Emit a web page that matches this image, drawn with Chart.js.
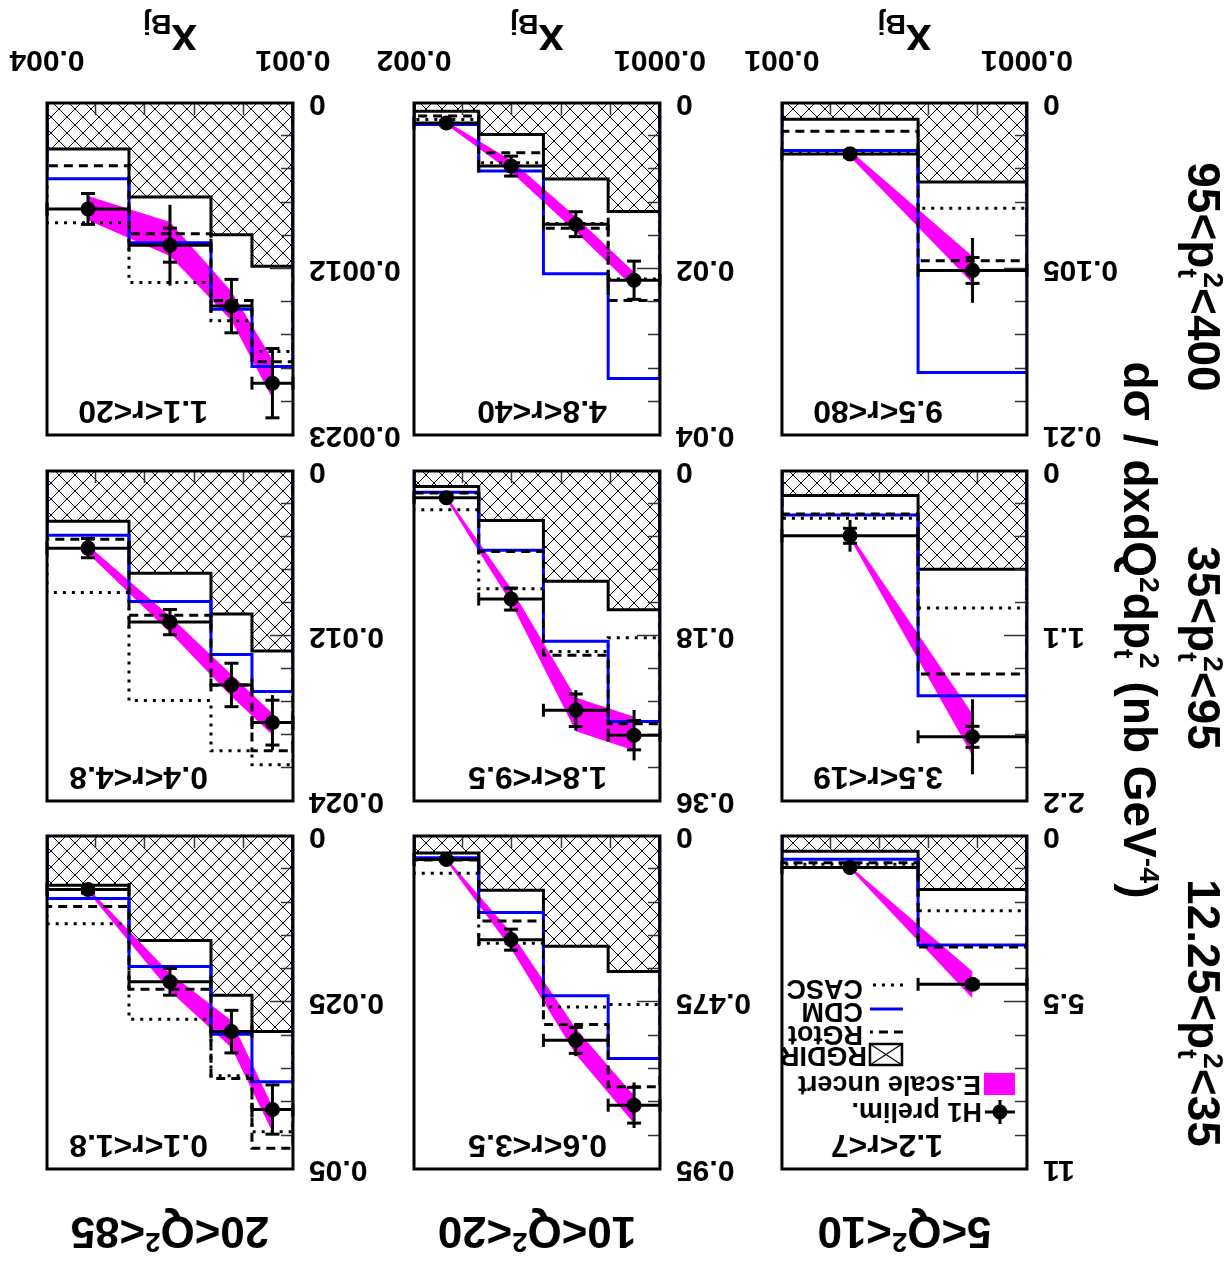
<!DOCTYPE html>
<html>
<head>
<meta charset="utf-8">
<script src="https://cdn.jsdelivr.net/npm/chart.js@4.4.0/dist/chart.umd.min.js"></script>
<style>
html, body { margin: 0; padding: 0; background: #fff; }
#page { position: absolute; left: 0; top: 0; width: 1228px; height: 1268px; transform: rotate(180deg);
  font-family: 'Liberation Sans', Arial, sans-serif; font-weight: bold; color: #000; overflow: hidden; }
#page canvas { position: absolute; }
.lbl { position: absolute; white-space: nowrap; text-align: center; line-height: 1; }
.lbl sup, .lbl sub { font-size: 62%; line-height: 0; }
</style>
</head>
<body>
<div id="page"></div>
<script>
// panel grid: rows = pt^2 ranges (top to bottom), columns = Q^2 ranges (left to right)
var colTitles = ['5&lt;Q<sup>2</sup>&lt;10', '10&lt;Q<sup>2</sup>&lt;20', '20&lt;Q<sup>2</sup>&lt;85'];
var rowTitles = ['12.25&lt;p<sub>t</sub><sup style="margin-left:-0.2em">2</sup>&lt;35',
                 '35&lt;p<sub>t</sub><sup style="margin-left:-0.2em">2</sup>&lt;95',
                 '95&lt;p<sub>t</sub><sup style="margin-left:-0.2em">2</sup>&lt;400'];
var yTitle = 'd&sigma; / dxdQ<sup>2</sup>dp<sub>t</sub><sup style="margin-left:-0.2em">2</sup> (nb GeV<sup>-4</sup>)';
var xTitle = 'x<sub>Bj</sub>';

var xEdges = [
  [0.0001, 0.0005, 0.001],
  [0.0001, 0.0005, 0.001, 0.0015, 0.002],
  [0.001, 0.0015, 0.002, 0.003, 0.004]
];
var xTickLabels = [['0.0001', '0.001'], ['0.0001', '0.002'], ['0.001', '0.004']];
var yMax = [[11, 0.95, 0.05], [2.2, 0.36, 0.024], [0.21, 0.04, 0.0023]];
var yMidLabels = [['5.5', '0.475', '0.025'], ['1.1', '0.18', '0.012'], ['0.105', '0.02', '0.0012']];
var rLabels = [['1.2<r<7', '0.6<r<3.5', '0.1<r<1.8'],
               ['3.5<r<19', '1.8<r<9.5', '0.4<r<4.8'],
               ['9.5<r<80', '4.8<r<40', '1.1<r<20']];

var rgdir = [
  [[1.771, 0.504], [0.3865, 0.3142, 0.1548, 0.0482], [0.02937, 0.0239, 0.0157, 0.0074]],
  [[0.655, 0.164], [0.1513, 0.1202, 0.0541, 0.0170], [0.0131, 0.0104, 0.00743, 0.00365]],
  [[0.050, 0.0102], [0.01307, 0.00917, 0.00379, 0.00098], [0.001131, 0.000913, 0.000651, 0.000319]]
];
var rgtot = [
  [[3.67, 0.88], [0.7155, 0.5376, 0.2428, 0.0682], [0.0469, 0.0364, 0.0230, 0.01059]],
  [[1.353, 0.287], [0.2758, 0.2009, 0.0877, 0.0240], [0.02035, 0.01556, 0.0105, 0.00497]],
  [[0.0998, 0.0178], [0.0238, 0.0151, 0.0060, 0.00156], [0.001793, 0.001369, 0.000906, 0.000435]]
];
var cdm = [
  [[3.60, 0.77], [0.635, 0.456, 0.218, 0.0621], [0.0369, 0.02976, 0.0196, 0.00937]],
  [[1.498, 0.294], [0.2733, 0.1857, 0.0865, 0.0232], [0.01603, 0.01334, 0.0095, 0.00467]],
  [[0.1705, 0.030], [0.0332, 0.02057, 0.0082, 0.0026], [0.001826, 0.001429, 0.000969, 0.000525]]
];
var casc = [
  [[2.47, 0.93], [0.481, 0.488, 0.306, 0.1066], [0.0444, 0.0360, 0.0275, 0.01317]],
  [[0.914, 0.315], [0.182, 0.197, 0.1284, 0.0424], [0.02136, 0.02035, 0.01669, 0.00884]],
  [[0.0666, 0.031], [0.0212, 0.01452, 0.0072, 0.0020], [0.001721, 0.001508, 0.001243, 0.00083]]
];
var h1 = [
  [[4.90, 1.04], [0.768, 0.583, 0.2957, 0.0667], [0.04107, 0.02937, 0.0219, 0.00805]],
  [[1.772, 0.432], [0.2882, 0.261, 0.1397, 0.0293], [0.0183, 0.01556, 0.01099, 0.00561]],
  [[0.1059, 0.0322], [0.02135, 0.0146, 0.0076, 0.00242], [0.001941, 0.001407, 0.000985, 0.000734]]
];
var h1Stat = [
  [[0.10, 0.04], [0.051, 0.037, 0.030, 0.005], [0.0037, 0.0032, 0.002, 0.0005]],
  [[0.07, 0.05], [0.016, 0.0177, 0.012, 0.002], [0.00163, 0.00158, 0.00092, 0.0007]],
  [[0.0082, 0.002], [0.0023, 0.0015, 0.0012, 0.0003], [0.00024, 0.000185, 0.000118, 0.000107]]
];
var h1Tot = [
  [[0.15, 0.06], [0.065, 0.045, 0.030, 0.006], [0.0037, 0.0032, 0.002, 0.0005]],
  [[0.25, 0.106], [0.0275, 0.022, 0.012, 0.003], [0.002, 0.00158, 0.00092, 0.0007]],
  [[0.0205, 0.003], [0.0023, 0.0015, 0.0012, 0.0003], [0.00024, 0.000185, 0.00028, 0.000107]]
];
var bandLo = [
  [[4.48, 1.00], [0.74, 0.549, 0.275, 0.063], [0.0406, 0.0277, 0.0206, 0.0078]],
  [[1.62, 0.42], [0.268, 0.247, 0.128, 0.027], [0.01764, 0.0148, 0.01056, 0.0054]],
  [[0.097, 0.030], [0.0204, 0.0137, 0.0069, 0.0022], [0.001777, 0.001306, 0.000824, 0.000644]]
];
var bandHi = [
  [[5.37, 1.08], [0.82, 0.623, 0.322, 0.071], [0.0445, 0.0318, 0.0233, 0.0084]],
  [[1.90, 0.45], [0.305, 0.284, 0.144, 0.031], [0.0192, 0.0164, 0.01174, 0.006]],
  [[0.114, 0.034], [0.0223, 0.0155, 0.0083, 0.0026], [0.002047, 0.001508, 0.00106, 0.000812]]
];

// layout (page coordinates before the 180 degree turn)
var colX = [201, 568, 935], colW = [245, 246, 246];
var rowY = [90, 458, 824], rowH = [342, 339, 341];
var rOff = [84, 53, 85];
var AXW = 110, AXH = 95, PADR = 80, PADT = 25;

Chart.defaults.font.family = "'Liberation Sans', Arial, sans-serif";
Chart.defaults.color = '#000';

var page = document.getElementById('page');

function makeHatch() {
  var c = document.createElement('canvas');
  c.width = 16; c.height = 16;
  var g = c.getContext('2d');
  g.strokeStyle = '#000';
  g.lineWidth = 1;
  g.beginPath();
  g.moveTo(-1, -1); g.lineTo(17, 17);
  g.moveTo(17, -1); g.lineTo(-1, 17);
  g.stroke();
  return g.createPattern(c, 'repeat');
}
var hatch = makeHatch();

function seg(ctx, x1, y1, x2, y2) {
  ctx.beginPath(); ctx.moveTo(x1, y1); ctx.lineTo(x2, y2); ctx.stroke();
}

function histPoints(edges, vals) {
  var pts = [{x: edges[0], y: 0}];
  for (var i = 0; i < vals.length; i++) pts.push({x: edges[i], y: vals[i]});
  pts.push({x: edges[edges.length - 1], y: vals[vals.length - 1]});
  pts.push({x: edges[edges.length - 1], y: 0});
  return pts;
}

function drawLegend(ctx, L, T) {
  ctx.font = 'bold 27px "Liberation Sans"';
  ctx.textBaseline = 'middle';
  ctx.textAlign = 'left';
  ctx.fillStyle = '#000';
  ctx.strokeStyle = '#000';
  ctx.lineWidth = 3;
  // H1 prelim.
  seg(ctx, L + 12, T + 57, L + 42, T + 57);
  seg(ctx, L + 27, T + 45, L + 27, T + 69);
  ctx.beginPath(); ctx.arc(L + 27, T + 57, 7.5, 0, Math.PI * 2); ctx.fill();
  ctx.fillText('H1 prelim.', L + 45, T + 59);
  // E.scale uncert
  ctx.fillStyle = '#ff00ff';
  ctx.fillRect(L + 12, T + 74, 31, 22);
  ctx.fillStyle = '#000';
  ctx.fillText('E.scale uncert', L + 46, T + 86);
  // RGDIR
  ctx.lineWidth = 2.5;
  ctx.strokeRect(L + 125, T + 104, 32, 21);
  ctx.lineWidth = 1.2;
  seg(ctx, L + 125, T + 104, L + 141, T + 114.5);
  seg(ctx, L + 157, T + 104, L + 141, T + 114.5);
  seg(ctx, L + 125, T + 125, L + 141, T + 114.5);
  seg(ctx, L + 157, T + 125, L + 141, T + 114.5);
  ctx.fillText('RGDIR', L + 160, T + 115);
  // RGtot
  ctx.lineWidth = 3;
  ctx.setLineDash([9, 6]);
  seg(ctx, L + 124, T + 137, L + 157, T + 137);
  ctx.setLineDash([]);
  ctx.fillText('RGtot', L + 164, T + 136);
  // CDM
  ctx.strokeStyle = '#0000ff';
  seg(ctx, L + 124, T + 160, L + 157, T + 160);
  ctx.strokeStyle = '#000';
  ctx.fillText('CDM', L + 164, T + 159);
  // CASC
  ctx.setLineDash([3, 6]);
  seg(ctx, L + 124, T + 184, L + 157, T + 184);
  ctx.setLineDash([]);
  ctx.fillText('CASC', L + 164, T + 182);
}

function makeDecor(r, c) {
  return {
    id: 'decor',
    afterDatasetsDraw: function(chart) {
      var ctx = chart.ctx, ca = chart.chartArea, xs = chart.scales.x, ys = chart.scales.y;
      var edges = xEdges[c], vals = h1[r][c], st = h1Stat[r][c], tot = h1Tot[r][c];
      ctx.save();
      // ticks inside the frame
      ctx.strokeStyle = '#333';
      ctx.lineWidth = 1.5;
      ys.ticks.forEach(function(t, i) {
        if (i === 0 || i === ys.ticks.length - 1) return;
        var y = Math.round(ys.getPixelForValue(t.value)) + 0.5;
        seg(ctx, ca.left, y, ca.left + (i === 5 ? 23 : 12), y);
      });
      xs.ticks.forEach(function(t, i) {
        if (i === 0 || i === xs.ticks.length - 1) return;
        var x = Math.round(xs.getPixelForValue(t.value)) + 0.5;
        seg(ctx, x, ca.bottom, x, ca.bottom - 12);
      });
      // H1 error bars
      ctx.strokeStyle = '#000';
      ctx.lineWidth = 3;
      for (var i = 0; i < vals.length; i++) {
        var cx = xs.getPixelForValue((edges[i] + edges[i + 1]) / 2);
        var cy = ys.getPixelForValue(vals[i]);
        var xl = xs.getPixelForValue(edges[i]), xr = xs.getPixelForValue(edges[i + 1]);
        seg(ctx, xl, cy, xr, cy);
        seg(ctx, xl, cy - 6.5, xl, cy + 6.5);
        seg(ctx, xr, cy - 6.5, xr, cy + 6.5);
        seg(ctx, cx, ys.getPixelForValue(vals[i] - tot[i]), cx, ys.getPixelForValue(vals[i] + tot[i]));
        var ylo = ys.getPixelForValue(vals[i] - st[i]), yhi = ys.getPixelForValue(vals[i] + st[i]);
        seg(ctx, cx - 7, ylo, cx + 7, ylo);
        seg(ctx, cx - 7, yhi, cx + 7, yhi);
      }
      // frame
      ctx.lineWidth = 3;
      ctx.strokeRect(ca.left, ca.top, ca.width, ca.height);
      // r range label
      ctx.fillStyle = '#000';
      ctx.font = 'bold 32px "Liberation Sans"';
      ctx.textBaseline = 'middle';
      ctx.textAlign = 'left';
      ctx.fillText(rLabels[r][c], ca.left + rOff[c], ca.top + 25);
      if (r === 0 && c === 0) drawLegend(ctx, ca.left, ca.top);
      ctx.restore();
    }
  };
}

function makePanel(r, c) {
  var cv = document.createElement('canvas');
  var w = AXW + colW[c] + PADR, h = PADT + rowH[r] + AXH;
  cv.width = w; cv.height = h;
  cv.style.width = w + 'px'; cv.style.height = h + 'px';
  cv.style.left = (colX[c] - AXW) + 'px';
  cv.style.top = (rowY[r] - PADT) + 'px';
  page.appendChild(cv);

  var edges = xEdges[c];
  var centers = [];
  for (var i = 0; i < edges.length - 1; i++) centers.push((edges[i] + edges[i + 1]) / 2);
  function pts(vals) { return vals.map(function(v, i) { return {x: centers[i], y: v}; }); }
  var xmin = edges[0], xmax = edges[edges.length - 1], ym = yMax[r][c];
  var line = {showLine: true, stepped: true, pointRadius: 0, borderWidth: 3, fill: false};

  new Chart(cv, {
    type: 'scatter',
    data: {
      datasets: [
        {label: 'H1 prelim.', data: pts(h1[r][c]), showLine: false, pointRadius: 7.5,
         pointBackgroundColor: '#000', pointBorderWidth: 0, order: 0},
        Object.assign({label: 'RGDIR', data: histPoints(edges, rgdir[r][c]), borderColor: '#000',
         backgroundColor: hatch, order: 10}, line, {fill: 'origin'}),
        Object.assign({label: 'RGtot', data: histPoints(edges, rgtot[r][c]), borderColor: '#000',
         borderDash: [9, 6], order: 2}, line),
        Object.assign({label: 'CDM', data: histPoints(edges, cdm[r][c]), borderColor: '#0000ff', order: 3}, line),
        Object.assign({label: 'CASC', data: histPoints(edges, casc[r][c]), borderColor: '#000',
         borderDash: [3, 6], order: 4}, line),
        {label: 'band hi', data: pts(bandHi[r][c]), showLine: true, pointRadius: 0, borderWidth: 0,
         borderColor: 'rgba(0,0,0,0)', fill: false, order: 8},
        {label: 'E.scale uncert', data: pts(bandLo[r][c]), showLine: true, pointRadius: 0, borderWidth: 0,
         borderColor: 'rgba(0,0,0,0)', backgroundColor: '#ff00ff', fill: '-1', order: 7}
      ]
    },
    options: {
      responsive: false,
      devicePixelRatio: 1,
      animation: false,
      events: [],
      layout: {autoPadding: false, padding: {left: 0, right: PADR, top: PADT, bottom: 0}},
      plugins: {legend: {display: false}, tooltip: {enabled: false}},
      scales: {
        x: {
          type: 'linear', min: xmin, max: xmax,
          grid: {display: false, drawTicks: false}, border: {display: false},
          afterBuildTicks: function(s) {
            var t = [];
            for (var k = 0; k <= 5; k++) t.push({value: xmin + (xmax - xmin) * k / 5});
            s.ticks = t;
          },
          afterFit: function(s) { s.height = AXH; },
          ticks: {
            display: r === 2, autoSkip: false, maxRotation: 0, minRotation: 0, padding: 26,
            font: {size: 30, weight: 'bold'}, color: '#000',
            callback: function(v, i) { return i === 0 ? xTickLabels[c][0] : (i === 5 ? xTickLabels[c][1] : ''); }
          }
        },
        y: {
          type: 'linear', min: 0, max: ym,
          grid: {display: false, drawTicks: false}, border: {display: false},
          afterBuildTicks: function(s) {
            var t = [];
            for (var k = 0; k <= 10; k++) t.push({value: ym * k / 10});
            s.ticks = t;
          },
          afterFit: function(s) { s.width = AXW; },
          ticks: {
            autoSkip: false, padding: 16, font: {size: 30, weight: 'bold'}, color: '#000',
            callback: function(v, i) {
              if (i === 0) return '0';
              if (i === 5) return yMidLabels[r][c];
              if (i === 10) return String(ym);
              return '';
            }
          }
        }
      }
    },
    plugins: [makeDecor(r, c)]
  });
}

function addLabel(html, cx, cy, size, rot) {
  var d = document.createElement('div');
  d.className = 'lbl';
  d.innerHTML = html;
  d.style.fontSize = size + 'px';
  d.style.width = '800px';
  d.style.height = size + 'px';
  d.style.left = (cx - 400) + 'px';
  d.style.top = (cy - size / 2) + 'px';
  if (rot) d.style.transform = 'rotate(' + rot + 'deg)';
  page.appendChild(d);
}

for (var r = 0; r < 3; r++) {
  for (var c = 0; c < 3; c++) makePanel(r, c);
}

var rowCY = [255, 620, 991];
for (var k = 0; k < 3; k++) {
  var cxk = colX[k] + colW[k] / 2;
  addLabel(colTitles[k], cxk, 36, 44, 0);
  addLabel(xTitle, cxk, 1227, 46, 0);
  addLabel(rowTitles[k], 24, rowCY[k], 46, -90);
}
addLabel(yTitle, 88, 638, 46, -90);
</script>
</body>
</html>
